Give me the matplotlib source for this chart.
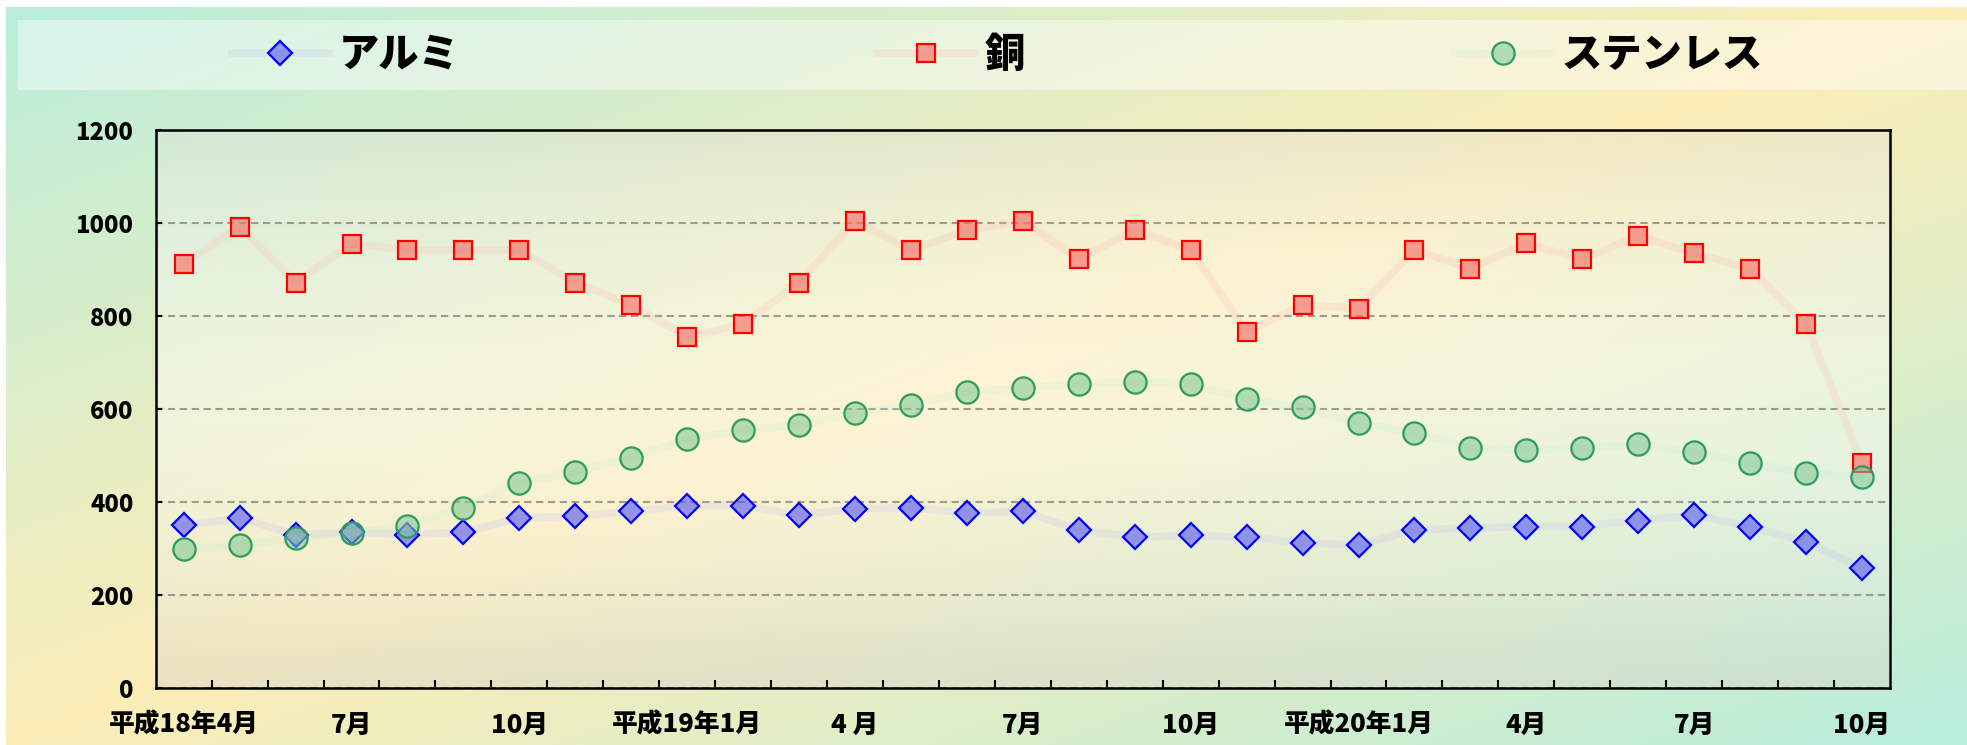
import numpy as np
import matplotlib.pyplot as plt
from matplotlib.patches import Rectangle

plt.rcParams['font.family'] = ['Noto Sans CJK JP', 'DejaVu Sans']
plt.rcParams['font.weight'] = 'bold'

# 月次価格 (平成18年4月 〜 平成20年10月)
aluminum = [350, 365, 330, 335, 330, 335, 365, 370, 380, 392, 392, 372, 385, 388, 376, 380,
            340, 324, 328, 324, 312, 307, 340, 344, 347, 347, 360, 372, 347, 315, 258]
copper = [912, 992, 872, 955, 942, 942, 942, 872, 824, 755, 782, 872, 1005, 942, 984, 1005,
          922, 984, 942, 766, 824, 816, 942, 902, 956, 922, 972, 935, 902, 783, 483]
stainless = [300, 307, 322, 333, 349, 387, 441, 465, 495, 536, 554, 565, 591, 608, 637, 646,
             654, 658, 654, 621, 604, 570, 549, 516, 512, 516, 524, 508, 483, 462, 454]
series_names = ['アルミ', '銅', 'ステンレス']
tick_labels = ['平成18年4月', '7月', '10月', '平成19年1月', '4 月', '7月', '10月',
               '平成20年1月', '4月', '7月', '10月']
y_ticks = [0, 200, 400, 600, 800, 1000, 1200]

W, H = 1967, 745
fig = plt.figure(figsize=(W / 100, H / 100), dpi=100)

teal = np.array([0.72, 0.93, 0.86])
yellow = np.array([0.99, 0.93, 0.72])


def bg_color(px, py):
    # diagonal two-tone wash, teal in top-left / bottom-right corners
    t = np.abs(px / W - (1 - py / H))[..., None]
    return yellow * (1 - t) + teal * t


# figure background
PX, PY = np.meshgrid(np.arange(W) + 0.5, np.arange(H) + 0.5)
bg = bg_color(PX, PY)
bg[:7, :] = 1.0
bg[:, :6] = 1.0
bgax = fig.add_axes([0, 0, 1, 1])
bgax.imshow(bg, aspect='auto', interpolation='bilinear')
bgax.axis('off')

# legend band
fig.add_artist(Rectangle((18 / W, 1 - 90 / H), 1, 70 / H, transform=fig.transFigure,
                         facecolor='white', alpha=0.42, edgecolor='none', zorder=1))

# plot area
ax_l, ax_r, ax_t, ax_b = 155.7, 1890.0, 130.0, 688.0
ax = fig.add_axes([ax_l / W, 1 - ax_b / H, (ax_r - ax_l) / W, (ax_b - ax_t) / H])
ax.patch.set_visible(False)

PX2, PY2 = np.meshgrid(np.linspace(ax_l, ax_r, 600), np.linspace(ax_t, ax_b, 300))
plot_bg = bg_color(PX2, PY2)
v = (PY2 - ax_t) / (ax_b - ax_t)
d = (v - 0.45) / 0.55
a = (0.5 * np.clip(d ** 2, 0, 1))[..., None]
b = (0.4 * np.clip(1 - (d / 0.9) ** 2, 0, 1))[..., None]
gray = np.array([0.85, 0.84, 0.80])
plot_bg = plot_bg * (1 - a) + gray * a
plot_bg = plot_bg * (1 - b) + b
ax.imshow(plot_bg, extent=(-0.5, 30.5, 0, 1200), aspect='auto', zorder=0,
          interpolation='bilinear')

x = np.arange(len(aluminum))
styles = [
    dict(color=(0.78, 0.76, 0.95, 0.24), marker='D', ms=12.5,
         mfc=(0.35, 0.35, 0.95, 0.6), mec='#0000ff'),
    dict(color=(1.0, 0.72, 0.7, 0.22), marker='s', ms=13.5,
         mfc=(0.95, 0.45, 0.42, 0.65), mec='#ff0000'),
    dict(color=(0.78, 0.92, 0.82, 0.22), marker='o', ms=16,
         mfc=(0.5, 0.78, 0.58, 0.55), mec='#2e9b5f'),
]
lines = []
for vals, st in zip([aluminum, copper, stainless], styles):
    ln, = ax.plot(x, vals, lw=5.5, mew=1.6, zorder=3, solid_joinstyle='round', **st)
    lines.append(ln)

ax.set_xlim(-0.5, 30.5)
ax.set_ylim(0, 1200)
ax.set_yticks(y_ticks)
ax.set_yticklabels([str(t) for t in y_ticks])
ax.set_xticks(np.arange(0, 31, 3))
ax.set_xticklabels(tick_labels)
ax.set_xticks(np.arange(0.5, 30, 1), minor=True)
ax.tick_params(axis='x', which='major', length=0, pad=17, labelsize=18.5)
ax.tick_params(axis='x', which='minor', direction='in', length=5.5, width=1.5)
ax.tick_params(axis='y', direction='in', length=4, width=1.5, pad=16, labelsize=17)
for lab in ax.get_xticklabels() + ax.get_yticklabels():
    lab.set_fontweight('heavy')

ax.set_axisbelow(True)
ax.grid(axis='y', color='#a09a8c', linestyle=(0, (3.5, 2.2)), lw=1.5)
for sp in ax.spines.values():
    sp.set_linewidth(1.8)
    sp.set_color('black')
    sp.set_zorder(5)

# legend entries spread across the band
for ln, name, xpos in zip(lines, series_names, [232, 878, 1455]):
    fig.legend(handles=[ln], labels=[name], loc='center left',
               bbox_to_anchor=(xpos / W, 1 - 55 / H), frameon=False,
               borderpad=0, borderaxespad=0, handlelength=2.4, handletextpad=0.25,
               numpoints=1, prop={'size': 29, 'weight': 'heavy'})

fig.savefig('out.png', dpi=100)
